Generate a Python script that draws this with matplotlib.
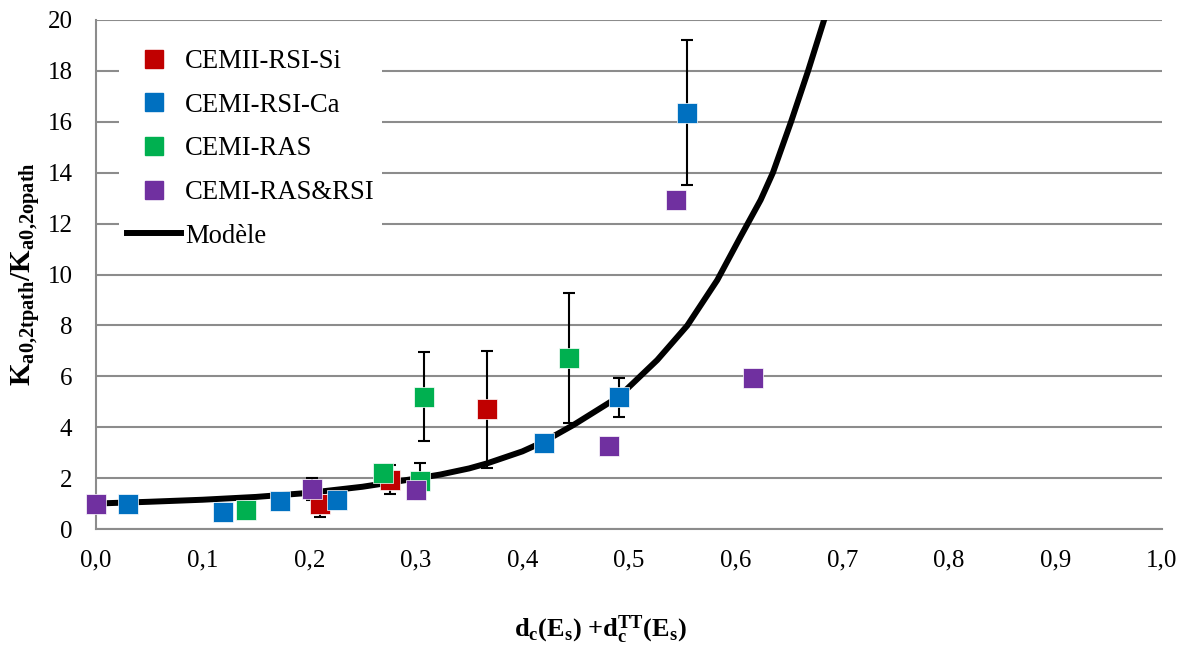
import matplotlib
matplotlib.use('Agg')
import numpy as np
import matplotlib.pyplot as plt
from matplotlib.lines import Line2D

plt.rcParams['font.family'] = ['Liberation Serif', 'DejaVu Serif']
plt.rcParams['mathtext.fontset'] = 'custom'
plt.rcParams['mathtext.rm'] = 'Liberation Serif'
plt.rcParams['mathtext.it'] = 'Liberation Serif'
plt.rcParams['mathtext.bf'] = 'Liberation Serif:bold'

# CEMII-RSI-Si
red_x = [0.210, 0.276, 0.367]
red_y = [1.00, 1.94, 4.70]
red_err = [0.53, 0.56, 2.29]

# CEMI-RSI-Ca
blue_x = [0.030, 0.1195, 0.173, 0.226, 0.420, 0.4905, 0.554]
blue_y = [1.00, 0.68, 1.10, 1.14, 3.39, 5.17, 16.35]
blue_err = [0, 0, 0, 0, 0, 0.76, 2.85]

# CEMI-RAS
green_x = [0.141, 0.269, 0.304, 0.308, 0.444]
green_y = [0.75, 2.19, 1.88, 5.20, 6.71]
green_err = [0, 0, 0.71, 1.75, 2.56]

# CEMI-RAS&RSI
purple_x = [0.0, 0.2025, 0.300, 0.481, 0.544, 0.616]
purple_y = [1.00, 1.57, 1.53, 3.26, 12.93, 5.92]
purple_err = [0, 0.43, 0, 0, 0, 0]

# model curve
model_x = [0.0, 0.05, 0.10, 0.15, 0.20, 0.25, 0.30, 0.323, 0.35, 0.367,
           0.40, 0.42, 0.448, 0.4905, 0.5265, 0.5546, 0.5828, 0.6047,
           0.6235, 0.635, 0.652, 0.668, 0.683, 0.69]
model_y = [1.00, 1.07, 1.15, 1.26, 1.42, 1.66, 1.98, 2.14, 2.38, 2.58,
           3.05, 3.43, 4.09, 5.20, 6.64, 7.99, 9.78, 11.49,
           12.93, 14.0, 16.0, 18.0, 20.0, 20.9]

series = [
    ('CEMII-RSI-Si', red_x, red_y, red_err, '#C00000'),
    ('CEMI-RSI-Ca', blue_x, blue_y, blue_err, '#0070C0'),
    ('CEMI-RAS', green_x, green_y, green_err, '#00B050'),
    ('CEMI-RAS&RSI', purple_x, purple_y, purple_err, '#7030A0'),
]

fig = plt.figure(figsize=(11.88, 6.46), dpi=100)
ax = fig.add_axes([96 / 1188., 1 - 529 / 646., (1162 - 96) / 1188., (529 - 20) / 646.])

grid_col = '#8c8c8c'
ax.set_xlim(0, 1.0)
ax.set_ylim(0, 20)
ax.set_yticks(np.arange(0, 21, 2))
ax.set_xticks(np.arange(0, 1.01, 0.1))
ax.set_xticklabels(['{:.1f}'.format(v).replace('.', ',') for v in np.arange(0, 1.01, 0.1)])
ax.yaxis.grid(True, color=grid_col, lw=1.5, zorder=0)
ax.set_axisbelow(True)
for s in ['top', 'right']:
    ax.spines[s].set_visible(False)
for s in ['left', 'bottom']:
    ax.spines[s].set_color(grid_col)
    ax.spines[s].set_linewidth(1.5)
ax.tick_params(axis='both', length=0, labelsize=18)
ax.tick_params(axis='x', pad=15)
ax.tick_params(axis='y', pad=17)

ax.plot(model_x, model_y, '-', color='black', lw=4.3, zorder=2,
        solid_joinstyle='round', solid_capstyle='butt')

handles = []
for label, xs, ys, errs, col in series:
    xs = np.array(xs)
    ys = np.array(ys)
    errs = np.array(errs)
    m = errs > 0
    if m.any():
        ax.errorbar(xs[m], ys[m], yerr=errs[m], fmt='none', ecolor='black',
                    elinewidth=1.5, capsize=4.5, capthick=1.5, zorder=3)
    ax.plot(xs, ys, 's', color=col, ms=14.5, mec='white', mew=0.5, zorder=4,
            clip_on=False)
    handles.append(Line2D([], [], marker='s', color=col, ls='none', ms=13, mec=col))
handles.append(Line2D([], [], color='black', lw=4.3))
labels = [s[0] for s in series] + ['Modèle']

leg = ax.legend(handles, labels, loc='upper left', bbox_to_anchor=(0.0095, 0.985),
                fontsize=19.2, frameon=True, framealpha=1, edgecolor='none',
                facecolor='white', handlelength=2.0, handletextpad=0.15,
                labelspacing=0.7, borderpad=0.3, fancybox=False)
leg.set_zorder(5)

ax.set_xlabel(r'$\mathbf{d_c(E_s)\ {+}d_c^{TT}(E_s)}$', fontsize=19)
ax.xaxis.set_label_coords(0.473, -0.166)
ax.set_ylabel(r'$\mathbf{K_{a0{,}2tpath}/K_{a0{,}2opath}}$', fontsize=21)
ax.yaxis.set_label_coords(-0.051, 0.5)

fig.savefig('out.png', dpi=100)
